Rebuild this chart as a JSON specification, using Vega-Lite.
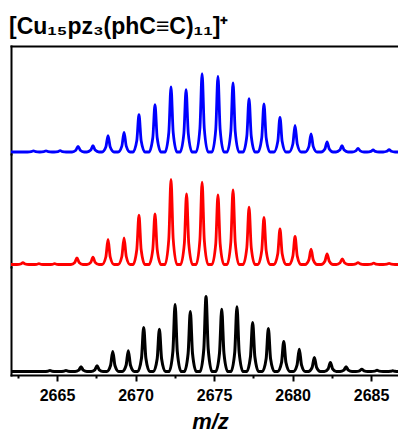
{
  "$schema": "https://vega.github.io/schema/vega-lite/v6.json",
  "padding": {"left": 9, "top": 16, "right": 0, "bottom": 0},
  "title": {
    "text": "[Cu₁₅pz₃(phC≡C)₁₁]⁺",
    "anchor": "start",
    "font": "Liberation Sans, Arial, sans-serif",
    "fontSize": 23,
    "fontWeight": "bold",
    "color": "#000000",
    "baseline": "alphabetic",
    "offset": -11,
    "dx": -2
  },
  "spacing": 0,
  "resolve": {"scale": {"x": "independent", "y": "independent"}},
  "config": {
    "view": {"stroke": null},
    "axis": {
      "grid": false,
      "domainColor": "#000000",
      "domainWidth": 2,
      "domainCap": "square",
      "tickColor": "#000000",
      "tickWidth": 2,
      "labelFont": "Liberation Sans, Arial, sans-serif",
      "labelFontSize": 16,
      "labelFontWeight": "bold",
      "labelColor": "#000000",
      "titleColor": "#000000"
    }
  },
  "datasets": {
    "blue": [
      {"m": 2662.0, "i": 0},
      {"m": 2663.12, "i": 0}, {"m": 2663.36, "i": 0.4}, {"m": 2663.5, "i": 1.2}, {"m": 2663.64, "i": 0.4}, {"m": 2663.88, "i": 0},
      {"m": 2663.92, "i": 0}, {"m": 2664.16, "i": 0.4}, {"m": 2664.3, "i": 1.2}, {"m": 2664.44, "i": 0.4}, {"m": 2664.68, "i": 0},
      {"m": 2664.82, "i": 0}, {"m": 2665.06, "i": 0.4}, {"m": 2665.2, "i": 1.4}, {"m": 2665.34, "i": 0.4}, {"m": 2665.58, "i": 0},
      {"m": 2665.96, "i": 0}, {"m": 2666.2, "i": 1.7}, {"m": 2666.34, "i": 5.7}, {"m": 2666.48, "i": 1.7}, {"m": 2666.72, "i": 0},
      {"m": 2666.91, "i": 0}, {"m": 2667.15, "i": 1.9}, {"m": 2667.29, "i": 6.3}, {"m": 2667.43, "i": 1.9}, {"m": 2667.67, "i": 0},
      {"m": 2667.87, "i": 0}, {"m": 2668.11, "i": 4.9}, {"m": 2668.25, "i": 16.3}, {"m": 2668.39, "i": 4.9}, {"m": 2668.63, "i": 0},
      {"m": 2668.89, "i": 0}, {"m": 2669.13, "i": 5.9}, {"m": 2669.27, "i": 19.7}, {"m": 2669.41, "i": 5.9}, {"m": 2669.65, "i": 0},
      {"m": 2669.84, "i": 0}, {"m": 2670.08, "i": 11.2}, {"m": 2670.22, "i": 37.3}, {"m": 2670.36, "i": 11.2}, {"m": 2670.6, "i": 0},
      {"m": 2670.86, "i": 0}, {"m": 2671.1, "i": 14.2}, {"m": 2671.24, "i": 47.3}, {"m": 2671.38, "i": 14.2}, {"m": 2671.62, "i": 0},
      {"m": 2671.88, "i": 0}, {"m": 2672.12, "i": 19.5}, {"m": 2672.26, "i": 65}, {"m": 2672.4, "i": 19.5}, {"m": 2672.64, "i": 0},
      {"m": 2672.84, "i": 0}, {"m": 2673.08, "i": 18.7}, {"m": 2673.22, "i": 62.3}, {"m": 2673.36, "i": 18.7}, {"m": 2673.6, "i": 0},
      {"m": 2673.86, "i": 0}, {"m": 2674.1, "i": 23.5}, {"m": 2674.24, "i": 78.3}, {"m": 2674.38, "i": 23.5}, {"m": 2674.62, "i": 0},
      {"m": 2674.87, "i": 0}, {"m": 2675.11, "i": 22.7}, {"m": 2675.25, "i": 75.7}, {"m": 2675.39, "i": 22.7}, {"m": 2675.63, "i": 0},
      {"m": 2675.83, "i": 0}, {"m": 2676.07, "i": 20.7}, {"m": 2676.21, "i": 69}, {"m": 2676.35, "i": 20.7}, {"m": 2676.59, "i": 0},
      {"m": 2676.85, "i": 0}, {"m": 2677.09, "i": 16}, {"m": 2677.23, "i": 53.3}, {"m": 2677.37, "i": 16}, {"m": 2677.61, "i": 0},
      {"m": 2677.8, "i": 0}, {"m": 2678.04, "i": 14.4}, {"m": 2678.18, "i": 48}, {"m": 2678.32, "i": 14.4}, {"m": 2678.56, "i": 0},
      {"m": 2678.82, "i": 0}, {"m": 2679.06, "i": 10.4}, {"m": 2679.2, "i": 34.7}, {"m": 2679.34, "i": 10.4}, {"m": 2679.58, "i": 0},
      {"m": 2679.78, "i": 0}, {"m": 2680.02, "i": 8}, {"m": 2680.16, "i": 26.7}, {"m": 2680.3, "i": 8}, {"m": 2680.54, "i": 0},
      {"m": 2680.8, "i": 0}, {"m": 2681.04, "i": 5.4}, {"m": 2681.18, "i": 18}, {"m": 2681.32, "i": 5.4}, {"m": 2681.56, "i": 0},
      {"m": 2681.82, "i": 0}, {"m": 2682.06, "i": 3}, {"m": 2682.2, "i": 10}, {"m": 2682.34, "i": 3}, {"m": 2682.58, "i": 0},
      {"m": 2682.77, "i": 0}, {"m": 2683.01, "i": 1.9}, {"m": 2683.15, "i": 6.3}, {"m": 2683.29, "i": 1.9}, {"m": 2683.53, "i": 0},
      {"m": 2683.79, "i": 0}, {"m": 2684.03, "i": 1.1}, {"m": 2684.17, "i": 3.7}, {"m": 2684.31, "i": 1.1}, {"m": 2684.55, "i": 0},
      {"m": 2684.75, "i": 0}, {"m": 2684.99, "i": 0.6}, {"m": 2685.13, "i": 2.1}, {"m": 2685.27, "i": 0.6}, {"m": 2685.51, "i": 0},
      {"m": 2685.77, "i": 0}, {"m": 2686.01, "i": 0.7}, {"m": 2686.15, "i": 2.3}, {"m": 2686.29, "i": 0.7}, {"m": 2686.53, "i": 0},
      {"m": 2686.9, "i": 0}
    ],
    "red": [
      {"m": 2662.0, "i": 0},
      {"m": 2662.45, "i": 0}, {"m": 2662.69, "i": 0.5}, {"m": 2662.83, "i": 1.8}, {"m": 2662.97, "i": 0.5}, {"m": 2663.21, "i": 0},
      {"m": 2663.47, "i": 0}, {"m": 2663.71, "i": 0.2}, {"m": 2663.85, "i": 0.8}, {"m": 2663.99, "i": 0.2}, {"m": 2664.23, "i": 0},
      {"m": 2664.47, "i": 0}, {"m": 2664.71, "i": 0.2}, {"m": 2664.85, "i": 0.8}, {"m": 2664.99, "i": 0.2}, {"m": 2665.23, "i": 0},
      {"m": 2665.89, "i": 0}, {"m": 2666.13, "i": 2}, {"m": 2666.27, "i": 6.7}, {"m": 2666.41, "i": 2}, {"m": 2666.65, "i": 0},
      {"m": 2666.91, "i": 0}, {"m": 2667.15, "i": 2.2}, {"m": 2667.29, "i": 7.3}, {"m": 2667.43, "i": 2.2}, {"m": 2667.67, "i": 0},
      {"m": 2667.87, "i": 0}, {"m": 2668.11, "i": 7.5}, {"m": 2668.25, "i": 25}, {"m": 2668.39, "i": 7.5}, {"m": 2668.63, "i": 0},
      {"m": 2668.89, "i": 0}, {"m": 2669.13, "i": 8}, {"m": 2669.27, "i": 26.7}, {"m": 2669.41, "i": 8}, {"m": 2669.65, "i": 0},
      {"m": 2669.84, "i": 0}, {"m": 2670.08, "i": 14.8}, {"m": 2670.22, "i": 49.3}, {"m": 2670.36, "i": 14.8}, {"m": 2670.6, "i": 0},
      {"m": 2670.86, "i": 0}, {"m": 2671.1, "i": 15.2}, {"m": 2671.24, "i": 50.7}, {"m": 2671.38, "i": 15.2}, {"m": 2671.62, "i": 0},
      {"m": 2671.88, "i": 0}, {"m": 2672.12, "i": 25.5}, {"m": 2672.26, "i": 85}, {"m": 2672.4, "i": 25.5}, {"m": 2672.64, "i": 0},
      {"m": 2672.87, "i": 0}, {"m": 2673.11, "i": 21.2}, {"m": 2673.25, "i": 70.5}, {"m": 2673.39, "i": 21.2}, {"m": 2673.63, "i": 0},
      {"m": 2673.86, "i": 0}, {"m": 2674.1, "i": 24.7}, {"m": 2674.24, "i": 82.3}, {"m": 2674.38, "i": 24.7}, {"m": 2674.62, "i": 0},
      {"m": 2674.87, "i": 0}, {"m": 2675.11, "i": 20.9}, {"m": 2675.25, "i": 69.7}, {"m": 2675.39, "i": 20.9}, {"m": 2675.63, "i": 0},
      {"m": 2675.83, "i": 0}, {"m": 2676.07, "i": 22.4}, {"m": 2676.21, "i": 74.7}, {"m": 2676.35, "i": 22.4}, {"m": 2676.59, "i": 0},
      {"m": 2676.85, "i": 0}, {"m": 2677.09, "i": 17.2}, {"m": 2677.23, "i": 57.3}, {"m": 2677.37, "i": 17.2}, {"m": 2677.61, "i": 0},
      {"m": 2677.8, "i": 0}, {"m": 2678.04, "i": 14.1}, {"m": 2678.18, "i": 47}, {"m": 2678.32, "i": 14.1}, {"m": 2678.56, "i": 0},
      {"m": 2678.82, "i": 0}, {"m": 2679.06, "i": 10.7}, {"m": 2679.2, "i": 35.7}, {"m": 2679.34, "i": 10.7}, {"m": 2679.58, "i": 0},
      {"m": 2679.78, "i": 0}, {"m": 2680.02, "i": 8.4}, {"m": 2680.16, "i": 28}, {"m": 2680.3, "i": 8.4}, {"m": 2680.54, "i": 0},
      {"m": 2680.8, "i": 0}, {"m": 2681.04, "i": 4.6}, {"m": 2681.18, "i": 15.3}, {"m": 2681.32, "i": 4.6}, {"m": 2681.56, "i": 0},
      {"m": 2681.82, "i": 0}, {"m": 2682.06, "i": 3.2}, {"m": 2682.2, "i": 10.7}, {"m": 2682.34, "i": 3.2}, {"m": 2682.58, "i": 0},
      {"m": 2682.79, "i": 0}, {"m": 2683.03, "i": 1.7}, {"m": 2683.17, "i": 5.7}, {"m": 2683.31, "i": 1.7}, {"m": 2683.55, "i": 0},
      {"m": 2683.79, "i": 0}, {"m": 2684.03, "i": 0.6}, {"m": 2684.17, "i": 1.9}, {"m": 2684.31, "i": 0.6}, {"m": 2684.55, "i": 0},
      {"m": 2684.79, "i": 0}, {"m": 2685.03, "i": 0.4}, {"m": 2685.17, "i": 1.4}, {"m": 2685.31, "i": 0.4}, {"m": 2685.55, "i": 0},
      {"m": 2685.77, "i": 0}, {"m": 2686.01, "i": 0.4}, {"m": 2686.15, "i": 1.2}, {"m": 2686.29, "i": 0.4}, {"m": 2686.53, "i": 0},
      {"m": 2686.9, "i": 0}
    ],
    "black": [
      {"m": 2662.0, "i": 0},
      {"m": 2664.17, "i": 0}, {"m": 2664.41, "i": 0.3}, {"m": 2664.55, "i": 0.9}, {"m": 2664.69, "i": 0.3}, {"m": 2664.93, "i": 0},
      {"m": 2665.19, "i": 0}, {"m": 2665.43, "i": 0.3}, {"m": 2665.57, "i": 0.9}, {"m": 2665.71, "i": 0.3}, {"m": 2665.95, "i": 0},
      {"m": 2666.15, "i": 0}, {"m": 2666.39, "i": 1.4}, {"m": 2666.53, "i": 4.7}, {"m": 2666.67, "i": 1.4}, {"m": 2666.91, "i": 0},
      {"m": 2667.17, "i": 0}, {"m": 2667.41, "i": 1.7}, {"m": 2667.55, "i": 5.7}, {"m": 2667.69, "i": 1.7}, {"m": 2667.93, "i": 0},
      {"m": 2668.17, "i": 0}, {"m": 2668.41, "i": 6}, {"m": 2668.55, "i": 20}, {"m": 2668.69, "i": 6}, {"m": 2668.93, "i": 0},
      {"m": 2669.16, "i": 0}, {"m": 2669.4, "i": 6.2}, {"m": 2669.54, "i": 20.7}, {"m": 2669.68, "i": 6.2}, {"m": 2669.92, "i": 0},
      {"m": 2670.14, "i": 0}, {"m": 2670.38, "i": 13.2}, {"m": 2670.52, "i": 44}, {"m": 2670.66, "i": 13.2}, {"m": 2670.9, "i": 0},
      {"m": 2671.14, "i": 0}, {"m": 2671.38, "i": 12.7}, {"m": 2671.52, "i": 42.3}, {"m": 2671.66, "i": 12.7}, {"m": 2671.9, "i": 0},
      {"m": 2672.14, "i": 0}, {"m": 2672.38, "i": 20.1}, {"m": 2672.52, "i": 67}, {"m": 2672.66, "i": 20.1}, {"m": 2672.9, "i": 0},
      {"m": 2673.11, "i": 0}, {"m": 2673.35, "i": 18}, {"m": 2673.49, "i": 60}, {"m": 2673.63, "i": 18}, {"m": 2673.87, "i": 0},
      {"m": 2674.11, "i": 0}, {"m": 2674.35, "i": 22.5}, {"m": 2674.49, "i": 75}, {"m": 2674.63, "i": 22.5}, {"m": 2674.87, "i": 0},
      {"m": 2675.11, "i": 0}, {"m": 2675.35, "i": 18.7}, {"m": 2675.49, "i": 62.3}, {"m": 2675.63, "i": 18.7}, {"m": 2675.87, "i": 0},
      {"m": 2676.08, "i": 0}, {"m": 2676.32, "i": 19.4}, {"m": 2676.46, "i": 64.7}, {"m": 2676.6, "i": 19.4}, {"m": 2676.84, "i": 0},
      {"m": 2677.08, "i": 0}, {"m": 2677.32, "i": 14.7}, {"m": 2677.46, "i": 49}, {"m": 2677.6, "i": 14.7}, {"m": 2677.84, "i": 0},
      {"m": 2678.08, "i": 0}, {"m": 2678.32, "i": 12.9}, {"m": 2678.46, "i": 43}, {"m": 2678.6, "i": 12.9}, {"m": 2678.84, "i": 0},
      {"m": 2679.06, "i": 0}, {"m": 2679.3, "i": 9}, {"m": 2679.44, "i": 30}, {"m": 2679.58, "i": 9}, {"m": 2679.82, "i": 0},
      {"m": 2680.05, "i": 0}, {"m": 2680.29, "i": 6.7}, {"m": 2680.43, "i": 22.3}, {"m": 2680.57, "i": 6.7}, {"m": 2680.81, "i": 0},
      {"m": 2681.01, "i": 0}, {"m": 2681.25, "i": 4.2}, {"m": 2681.39, "i": 14}, {"m": 2681.53, "i": 4.2}, {"m": 2681.77, "i": 0},
      {"m": 2682.03, "i": 0}, {"m": 2682.27, "i": 2.7}, {"m": 2682.41, "i": 9}, {"m": 2682.55, "i": 2.7}, {"m": 2682.79, "i": 0},
      {"m": 2683.03, "i": 0}, {"m": 2683.27, "i": 1.4}, {"m": 2683.41, "i": 4.7}, {"m": 2683.55, "i": 1.4}, {"m": 2683.79, "i": 0},
      {"m": 2684.03, "i": 0}, {"m": 2684.27, "i": 0.7}, {"m": 2684.41, "i": 2.3}, {"m": 2684.55, "i": 0.7}, {"m": 2684.79, "i": 0},
      {"m": 2685.0, "i": 0}, {"m": 2685.24, "i": 0.4}, {"m": 2685.38, "i": 1.2}, {"m": 2685.52, "i": 0.4}, {"m": 2685.76, "i": 0},
      {"m": 2686.0, "i": 0}, {"m": 2686.24, "i": 0.2}, {"m": 2686.38, "i": 0.7}, {"m": 2686.52, "i": 0.2}, {"m": 2686.76, "i": 0},
      {"m": 2686.9, "i": 0}
    ]
  },
  "vconcat": [
    {
      "width": 388,
      "height": 108,
      "data": {"name": "blue"},
      "mark": {"type": "line", "interpolate": "monotone", "color": "#0000ff", "strokeWidth": 2.8, "clip": true},
      "encoding": {
        "x": {
          "field": "m", "type": "quantitative",
          "scale": {"domain": [2662.07, 2686.78], "nice": false, "zero": false},
          "axis": {"orient": "top", "labels": false, "ticks": false, "title": null}
        },
        "y": {
          "field": "i", "type": "quantitative",
          "scale": {"domain": [-2, 106], "nice": false, "zero": false},
          "axis": {"labels": false, "ticks": false, "title": null}
        }
      }
    },
    {
      "width": 388,
      "height": 113,
      "data": {"name": "red"},
      "mark": {"type": "line", "interpolate": "monotone", "color": "#ff0000", "strokeWidth": 2.8, "clip": true},
      "encoding": {
        "x": {
          "field": "m", "type": "quantitative",
          "scale": {"domain": [2662.07, 2686.78], "nice": false, "zero": false},
          "axis": null
        },
        "y": {
          "field": "i", "type": "quantitative",
          "scale": {"domain": [-2.5, 110.5], "nice": false, "zero": false},
          "axis": {"labels": false, "ticks": false, "title": null}
        }
      }
    },
    {
      "width": 388,
      "height": 108,
      "data": {"name": "black"},
      "mark": {"type": "line", "interpolate": "monotone", "color": "#000000", "strokeWidth": 3, "clip": true},
      "encoding": {
        "x": {
          "field": "m", "type": "quantitative",
          "scale": {"domain": [2662.07, 2686.78], "nice": false, "zero": false},
          "axis": {
            "orient": "bottom",
            "values": [2662.5, 2665, 2667.5, 2670, 2672.5, 2675, 2677.5, 2680, 2682.5, 2685],
            "format": "d",
            "labelExpr": "datum.value % 5 === 0 ? datum.label : ''",
            "tickSize": {"condition": {"test": "datum.value % 5 === 0", "value": 6}, "value": 3},
            "labelPadding": 6,
            "title": "m/z",
            "titleFont": "Liberation Sans, Arial, sans-serif",
            "titleFontSize": 22,
            "titleFontStyle": "italic",
            "titleFontWeight": "bold",
            "titlePadding": 8,
            "titleX": 199
          }
        },
        "y": {
          "field": "i", "type": "quantitative",
          "scale": {"domain": [-3.5, 104.5], "nice": false, "zero": false},
          "axis": {"labels": false, "ticks": false, "title": null}
        }
      }
    }
  ]
}
